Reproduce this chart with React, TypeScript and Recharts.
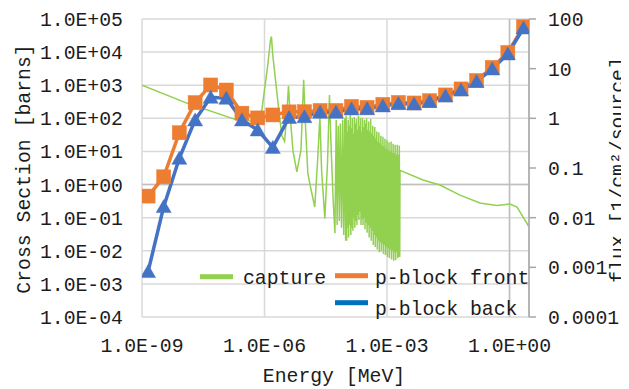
import React from 'react';
import { ComposedChart, Line, XAxis, YAxis, CartesianGrid, ReferenceLine } from 'recharts';

// Group energies [MeV] for the p-block flux tallies
const FLUX_ENERGY = [1.41e-9, 3.4e-9, 8.2e-9, 2.0e-8, 4.8e-8, 1.16e-7, 2.8e-7, 6.8e-7, 1.6e-6, 4.0e-6, 9.5e-6, 2.3e-5, 5.6e-5, 1.35e-4, 3.25e-4, 7.9e-4, 1.9e-3, 4.6e-3, 1.1e-2, 2.7e-2, 6.5e-2, 0.156, 0.377, 0.91, 2.2];
const FRONT_FLUX = [0.0272, 0.0665, 0.513, 2.07, 4.7, 3.72, 1.27, 1.02, 1.17, 1.35, 1.36, 1.44, 1.44, 1.74, 1.66, 1.91, 2.09, 2.04, 2.27, 2.96, 3.91, 5.78, 10.6, 21.2, 70];
const BACK_FLUX = [0.00082, 0.0167, 0.157, 0.93, 2.66, 2.54, 0.93, 0.585, 0.26, 1.04, 1.08, 1.33, 1.33, 1.55, 1.56, 1.78, 1.98, 1.95, 2.19, 2.82, 3.73, 5.53, 9.86, 19.8, 65.9];

// Capture cross section [energy MeV, barns]
const CAPTURE_POINTS: [number, number][] = [
  [1e-9, 1010], [1.3e-8, 284], [1.9e-7, 93], [5.0e-7, 82], [8.6e-7, 175], [1.2e-6, 4000], [1.4e-6, 23000],
  [1.48e-6, 29500], [1.58e-6, 9000], [1.75e-6, 2900], [2.1e-6, 360], [2.65e-6, 30], [3.1e-6, 20], [3.5e-6, 120],
  [3.86e-6, 950], [4.3e-6, 100], [5.0e-6, 10], [6.2e-6, 2.4], [7.8e-6, 11], [9.1e-6, 1450], [1.02e-5, 45],
  [1.15e-5, 2.2], [1.3e-5, 1.0], [1.7e-5, 0.21], [2.0e-5, 5.5], [2.27e-5, 112], [2.5e-5, 2.7], [3.0e-5, 0.095],
  [3.5e-5, 5], [3.9e-5, 506], [4.3e-5, 11], [4.8e-5, 0.34], [5.3e-5, 0.034], [5.7e-5, 89], [6.0e-5, 0.06],
  [6.4e-5, 60], [6.8e-5, 0.08], [7.2e-5, 70], [7.7e-5, 0.05], [8.2e-5, 90], [8.7e-5, 0.03], [9.2e-5, 100],
  [9.7e-5, 0.02],
  [1.00e-4, 120], [1.03e-4, 0.02], [1.06e-4, 40], [1.09e-4, 0.05], [1.12e-4, 90], [1.15e-4, 0.025],
  [1.19e-4, 60], [1.22e-4, 0.06], [1.26e-4, 126], [1.30e-4, 0.03], [1.33e-4, 50], [1.37e-4, 0.05],
  [1.41e-4, 100], [1.46e-4, 0.04], [1.50e-4, 35], [1.55e-4, 0.1], [1.58e-4, 110], [1.63e-4, 0.05],
  [1.68e-4, 70], [1.73e-4, 0.08], [1.78e-4, 95], [1.83e-4, 0.06], [1.88e-4, 45], [1.94e-4, 0.12],
  [2.00e-4, 120], [2.05e-4, 0.085], [2.11e-4, 60], [2.18e-4, 0.15], [2.24e-4, 100], [2.31e-4, 0.06],
  [2.37e-4, 40], [2.44e-4, 0.09], [2.51e-4, 105], [2.59e-4, 0.06], [2.66e-4, 55], [2.74e-4, 0.1],
  [2.82e-4, 90], [2.90e-4, 0.045], [2.99e-4, 70], [3.08e-4, 0.07], [3.16e-4, 100], [3.26e-4, 0.035],
  [3.35e-4, 45], [3.45e-4, 0.06], [3.55e-4, 80], [3.65e-4, 0.025], [3.76e-4, 40], [3.87e-4, 0.05],
  [3.98e-4, 95], [4.10e-4, 0.02], [4.22e-4, 35], [4.35e-4, 0.04], [4.47e-4, 60], [4.60e-4, 0.015],
  [4.73e-4, 30], [4.87e-4, 0.03], [5.01e-4, 55], [5.16e-4, 0.013], [5.31e-4, 25], [5.47e-4, 0.025],
  [5.62e-4, 40], [5.79e-4, 0.011], [5.96e-4, 20], [6.14e-4, 0.02], [6.31e-4, 38], [6.50e-4, 0.009],
  [6.68e-4, 18], [6.88e-4, 0.018], [7.08e-4, 30], [7.29e-4, 0.0095], [7.50e-4, 15], [7.72e-4, 0.016],
  [7.94e-4, 28], [8.18e-4, 0.008], [8.41e-4, 14], [8.66e-4, 0.015], [8.91e-4, 24], [9.17e-4, 0.0075],
  [9.44e-4, 12], [9.72e-4, 0.013],
  [1.00e-3, 22], [1.03e-3, 0.0065], [1.06e-3, 11], [1.09e-3, 0.012], [1.12e-3, 19], [1.15e-3, 0.006],
  [1.19e-3, 10], [1.22e-3, 0.011], [1.26e-3, 20], [1.30e-3, 0.0055], [1.33e-3, 9], [1.37e-3, 0.01],
  [1.41e-3, 17], [1.46e-3, 0.005], [1.50e-3, 9], [1.55e-3, 0.009], [1.58e-3, 16], [1.63e-3, 0.0052],
  [1.68e-3, 8], [1.73e-3, 0.009], [1.78e-3, 16], [1.83e-3, 0.006], [1.88e-3, 8], [1.94e-3, 0.0065],
  [2.00e-3, 15], [2.05e-3, 0.0065],
  [2.08e-3, 2.7], [7.6e-3, 1.37], [1.98e-2, 0.97], [6.1e-2, 0.48], [0.189, 0.276], [0.49, 0.232],
  [1.03, 0.258], [1.53, 0.209], [2.14, 0.106], [2.92, 0.056],
];

const X_TICKS = [1e-9, 1e-6, 1e-3, 1];
const X_TICK_LABELS = ['1.0E-09', '1.0E-06', '1.0E-03', '1.0E+00'];
const LEFT_TICKS = [1e-4, 1e-3, 1e-2, 1e-1, 1, 10, 100, 1e3, 1e4, 1e5];
const LEFT_TICK_LABELS = ['1.0E-04', '1.0E-03', '1.0E-02', '1.0E-01', '1.0E+00', '1.0E+01', '1.0E+02', '1.0E+03', '1.0E+04', '1.0E+05'];
const RIGHT_TICKS = [1e-4, 1e-3, 1e-2, 1e-1, 1, 10, 100];
const RIGHT_TICK_LABELS = ['0.0001', '0.001', '0.01', '0.1', '1', '10', '100'];

const captureData = CAPTURE_POINTS.map(([e, v]) => ({ e, v }));
const frontData = FLUX_ENERGY.map((e, i) => ({ e, v: FRONT_FLUX[i] }));
const backData = FLUX_ENERGY.map((e, i) => ({ e, v: BACK_FLUX[i] }));

const FONT = 'Liberation Mono';
const FS = 19.8;
const TEXT = '#1c1c1c';
const GREEN = '#92D050';
const ORANGE = '#ED7D31';
const BLUE = '#4472C4';

const lookup = (ticks: number[], labels: string[]) => (v: number) => {
  const i = ticks.findIndex((t) => Math.abs(Math.log10(t) - Math.log10(v)) < 1e-6);
  return i >= 0 ? labels[i] : '';
};

const tickStyle = { fill: TEXT, fontSize: FS, fontFamily: FONT };

const Square = (props: any) => {
  const { cx, cy, index } = props;
  if (cx == null || cy == null) return <g key={`s${index}`} />;
  return <rect key={`s${index}`} x={cx - 7} y={cy - 7} width={14} height={14} fill={ORANGE} stroke={ORANGE} strokeWidth={0.5} />;
};

const Triangle = (props: any) => {
  const { cx, cy, index } = props;
  if (cx == null || cy == null) return <g key={`t${index}`} />;
  return (
    <polygon
      key={`t${index}`}
      points={`${cx},${cy - 7} ${cx + 7.5},${cy + 6} ${cx - 7.5},${cy + 6}`}
      fill={BLUE}
      stroke={BLUE}
      strokeWidth={0.5}
    />
  );
};

export default function App() {
  return (
    <div style={{ position: 'relative', width: 613, height: 381 }}>
      <style>{'body{overflow:hidden}'}</style>
      <ComposedChart width={613} height={381} margin={{ top: 11, right: 0, bottom: 0, left: 0 }}>
        <CartesianGrid yAxisId="left" stroke="#D9D9D9" strokeWidth={1.5} />
        <XAxis
          dataKey="e"
          type="number"
          scale="log"
          domain={[1e-9, 3]}
          allowDataOverflow
          ticks={X_TICKS}
          interval={0}
          tickFormatter={lookup(X_TICKS, X_TICK_LABELS)}
          axisLine={false}
          tickLine={false}
          tickSize={0}
          tickMargin={21}
          height={72}
          tick={tickStyle}
        />
        <YAxis
          yAxisId="left"
          type="number"
          scale="log"
          domain={[1e-4, 1e5]}
          allowDataOverflow
          ticks={LEFT_TICKS}
          interval={0}
          tickFormatter={lookup(LEFT_TICKS, LEFT_TICK_LABELS)}
          axisLine={false}
          tickLine={false}
          tickSize={0}
          tickMargin={19}
          width={134}
          tick={tickStyle}
        />
        <YAxis
          yAxisId="right"
          orientation="right"
          type="number"
          scale="log"
          domain={[1e-4, 100]}
          allowDataOverflow
          ticks={RIGHT_TICKS}
          interval={0}
          tickFormatter={lookup(RIGHT_TICKS, RIGHT_TICK_LABELS)}
          axisLine={{ stroke: '#A6A6A6', strokeWidth: 1.5 }}
          tickLine={{ stroke: '#A6A6A6', strokeWidth: 1.5 }}
          tickSize={7}
          tickMargin={12}
          width={92}
          tick={{ ...tickStyle, textAnchor: 'start' }}
        />
        <ReferenceLine yAxisId="left" y={1} stroke="#BFBFBF" strokeWidth={1.5} />
        <ReferenceLine yAxisId="left" x={1} stroke="#BFBFBF" strokeWidth={1.5} />
        <Line
          yAxisId="left"
          data={captureData}
          dataKey="v"
          stroke={GREEN}
          strokeWidth={1.5}
          dot={false}
          activeDot={false}
          type="linear"
          isAnimationActive={false}
          legendType="none"
        />
        <Line
          yAxisId="right"
          data={frontData}
          dataKey="v"
          stroke={ORANGE}
          strokeWidth={3.5}
          dot={Square}
          activeDot={false}
          type="linear"
          isAnimationActive={false}
          legendType="none"
        />
        <Line
          yAxisId="right"
          data={backData}
          dataKey="v"
          stroke={BLUE}
          strokeWidth={3.5}
          dot={Triangle}
          activeDot={false}
          type="linear"
          isAnimationActive={false}
          legendType="none"
        />
      </ComposedChart>
      <svg
        width={621}
        height={381}
        style={{ position: 'absolute', left: 0, top: 0, overflow: 'visible', pointerEvents: 'none' }}
        fontFamily={FONT}
        fontSize={FS}
        fill={TEXT}
      >
        <text x={22} y={161} transform="rotate(-90 22 161)" textAnchor="middle">Cross Section [barns]</text>
        <text x={616} y={162} transform="rotate(-90 616 162)" textAnchor="middle">flux [1/cm²/source]</text>
        <text x={326} y={374} textAnchor="middle">Energy [MeV]</text>
        <rect x={192} y={266.2} width={33} height={5} fill={GREEN} />
        <text x={235} y={276}>capture</text>
        <rect x={327} y={265.2} width={33} height={5} fill={ORANGE} />
        <text x={367} y={276}>p-block front</text>
        <rect x={327} y={292.2} width={33} height={5} fill="#0070C0" />
        <text x={367} y={307}>p-block back</text>
      </svg>
    </div>
  );
}
